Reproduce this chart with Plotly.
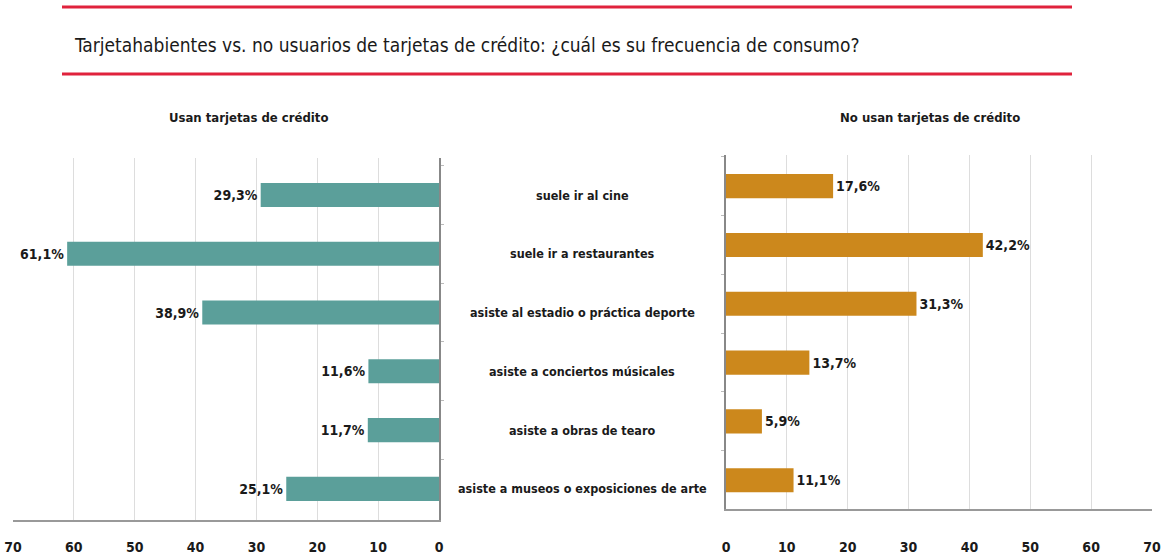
import plotly.graph_objects as go

categories = [
    "suele ir al cine",
    "suele ir a restaurantes",
    "asiste al estadio o práctica deporte",
    "asiste a conciertos músicales",
    "asiste a obras de tearo",
    "asiste a museos o exposiciones de arte",
]
usan = [29.3, 61.1, 38.9, 11.6, 11.7, 25.1]
no_usan = [17.6, 42.2, 31.3, 13.7, 5.9, 11.1]
x_ticks = [0, 10, 20, 30, 40, 50, 60, 70]

title = "Tarjetahabientes vs. no usuarios de tarjetas de crédito: ¿cuál es su frecuencia de consumo?"
left_title = "Usan tarjetas de crédito"
right_title = "No usan tarjetas de crédito"

FONT = "DejaVu Sans Condensed, Liberation Sans Narrow, sans-serif"
W, H = 1166, 557


def fmt(v):
    return f"{v:.1f}".replace(".", ",") + "%"


fig = go.Figure()
fig.add_trace(go.Bar(
    y=categories, x=usan, orientation="h", width=0.41,
    marker=dict(color="#5B9F9A", line=dict(width=0)),
    text=[fmt(v) for v in usan], textposition="outside", cliponaxis=False,
    textfont=dict(family=FONT, size=14, color="#1a1a1a", weight="bold"),
    xaxis="x", yaxis="y", showlegend=False,
))
fig.add_trace(go.Bar(
    y=categories, x=no_usan, orientation="h", width=0.41,
    marker=dict(color="#CC881C", line=dict(width=0)),
    text=[fmt(v) for v in no_usan], textposition="outside", cliponaxis=False,
    textfont=dict(family=FONT, size=14, color="#1a1a1a", weight="bold"),
    xaxis="x2", yaxis="y2", showlegend=False,
))

tickfont = dict(family=FONT, size=14, color="#1a1a1a", weight="bold")

fig.update_layout(
    width=W, height=H,
    margin=dict(l=0, r=0, t=0, b=0, autoexpand=False),
    paper_bgcolor="white", plot_bgcolor="white",
    font=dict(family=FONT),
    xaxis=dict(
        domain=[13 / W, 439 / W], range=[70, 0], tickvals=x_ticks,
        showgrid=True, gridcolor="#dddddd", gridwidth=1,
        showline=True, linecolor="#999999", linewidth=2,
        zeroline=False, ticks="", tickfont=tickfont, ticklabelstandoff=13,
        anchor="y", fixedrange=True, automargin=False,
    ),
    yaxis=dict(
        domain=[1 - 520 / H, 1 - 158 / H], range=[5.53, -0.63],
        type="category", showticklabels=False, side="right",
        showline=True, linecolor="#888888", linewidth=2,
        ticks="outside", ticklen=3, tickcolor="#bbbbbb", tickson="boundaries",
        showgrid=False, anchor="x", automargin=False, fixedrange=True,
    ),
    xaxis2=dict(
        domain=[726 / W, 1152 / W], range=[0, 70], tickvals=x_ticks,
        showgrid=True, gridcolor="#dddddd", gridwidth=1,
        showline=True, linecolor="#999999", linewidth=2,
        zeroline=False, ticks="", tickfont=tickfont, ticklabelstandoff=24,
        anchor="y2", fixedrange=True, automargin=False,
    ),
    yaxis2=dict(
        domain=[1 - 509 / H, 1 - 155 / H], range=[5.49, -0.53],
        type="category", showticklabels=False, side="left",
        showline=True, linecolor="#888888", linewidth=2,
        ticks="outside", ticklen=3, tickcolor="#bbbbbb", tickson="boundaries",
        showgrid=False, anchor="x2", automargin=False, fixedrange=True,
    ),
)

# red rules around the title
for yp in [7, 74]:
    fig.add_shape(type="line", xref="paper", yref="paper",
                  x0=62 / W, x1=1072 / W, y0=1 - yp / H, y1=1 - yp / H,
                  line=dict(color="#E0223C", width=3))

fig.add_annotation(text=title, xref="paper", yref="paper",
                   x=72 / W, y=1 - 45 / H, xanchor="left", yanchor="middle",
                   showarrow=False,
                   font=dict(family=FONT, size=19, color="#1a1a1a"))
fig.add_annotation(text=left_title, xref="paper", yref="paper",
                   x=248 / W, y=1 - 118 / H, xanchor="center", yanchor="middle",
                   showarrow=False,
                   font=dict(family=FONT, size=13, color="#1a1a1a", weight="bold"))
fig.add_annotation(text=right_title, xref="paper", yref="paper",
                   x=930 / W, y=1 - 118 / H, xanchor="center", yanchor="middle",
                   showarrow=False,
                   font=dict(family=FONT, size=13, color="#1a1a1a", weight="bold"))

for c in categories:
    fig.add_annotation(text=c, xref="paper", yref="y",
                       x=582 / W, y=c, xanchor="center", yanchor="middle",
                       showarrow=False,
                       font=dict(family=FONT, size=12.5, color="#1a1a1a", weight="bold"))

fig.write_html("out.html", config={"displayModeBar": False},
               post_script="document.body.style.margin='0';")
